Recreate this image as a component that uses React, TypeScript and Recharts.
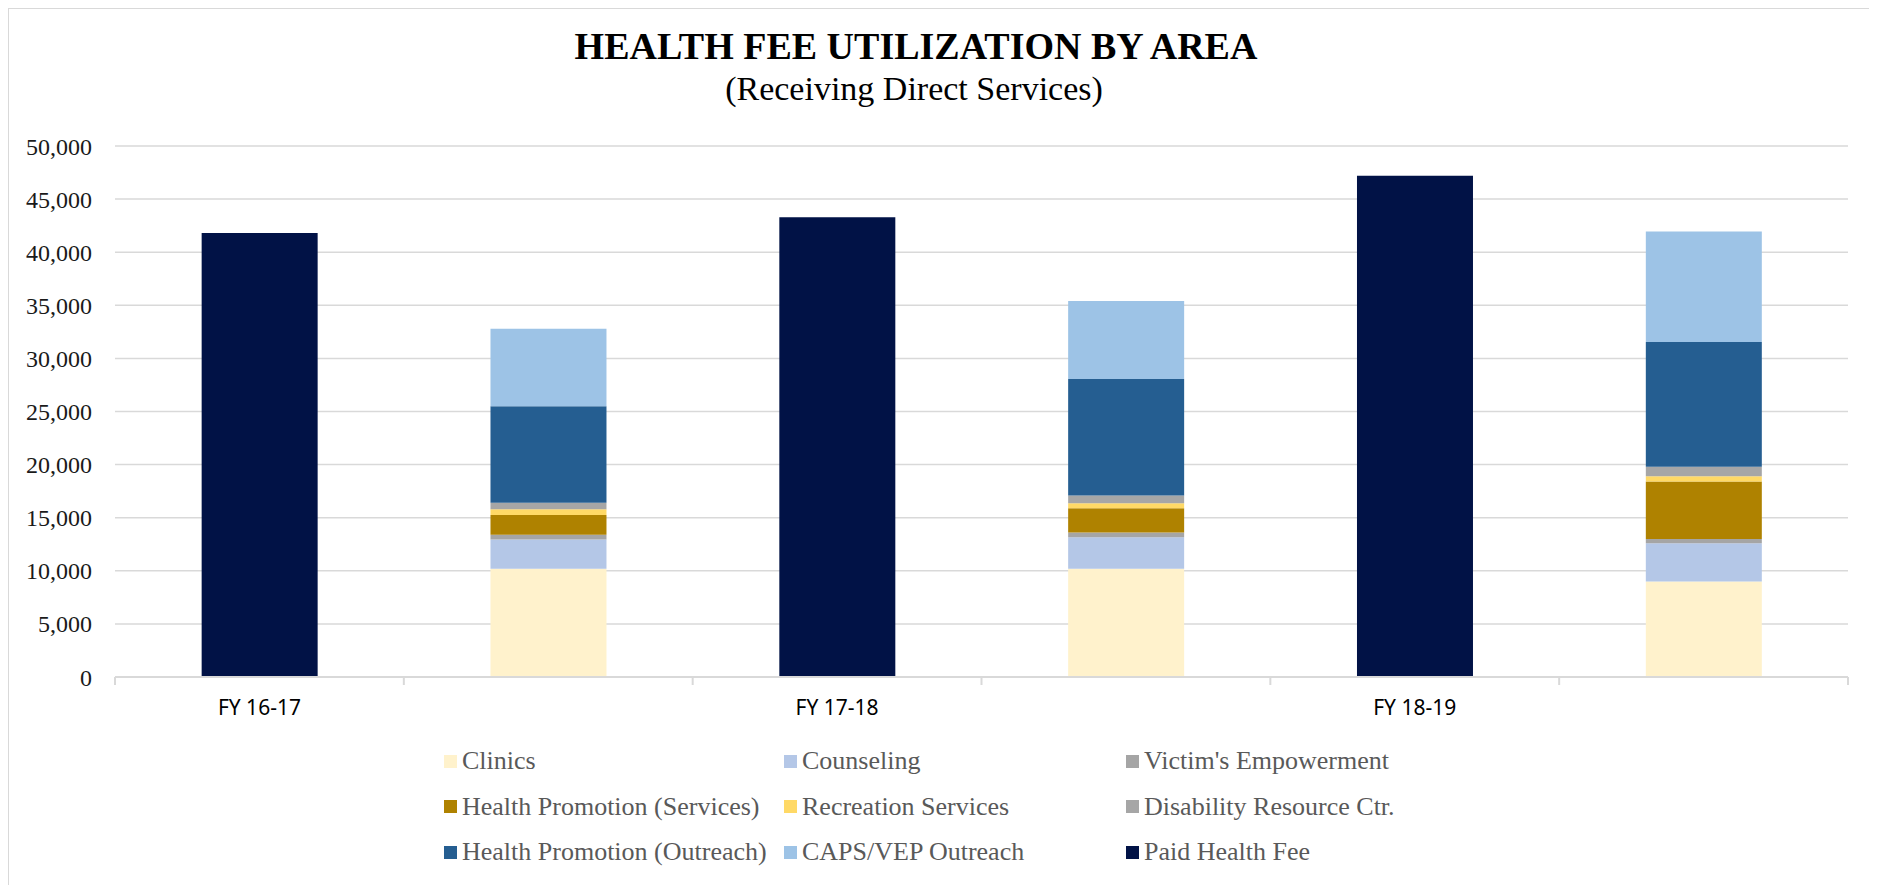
import React from "react";
import { BarChart, Bar, XAxis, YAxis, CartesianGrid } from "recharts";

// ---- data ----
const fiscalYears = ["FY 16-17", "FY 17-18", "FY 18-19"];
const paidHealthFee = [41800, 43300, 47200];
const clinics = [10200, 10200, 9000];
const counseling = [2750, 2950, 3600];
const victimsEmpowerment = [450, 450, 400];
const hpServices = [1850, 2300, 5400];
const recreation = [550, 450, 500];
const disability = [600, 750, 900];
const hpOutreach = [9100, 10950, 11750];
const capsVep = [7300, 7350, 10400];
const yTicks = [0, 5000, 10000, 15000, 20000, 25000, 30000, 35000, 40000, 45000, 50000];

const stackSeries = [
  { key: "clinics", name: "Clinics", color: "#FFF2CC", values: clinics },
  { key: "counseling", name: "Counseling", color: "#B4C7E7", values: counseling },
  { key: "victims", name: "Victim's Empowerment", color: "#A5A5A5", values: victimsEmpowerment },
  { key: "hps", name: "Health Promotion (Services)", color: "#AF8200", values: hpServices },
  { key: "rec", name: "Recreation Services", color: "#FFD966", values: recreation },
  { key: "dis", name: "Disability Resource Ctr.", color: "#A6A6A6", values: disability },
  { key: "hpo", name: "Health Promotion (Outreach)", color: "#255E91", values: hpOutreach },
  { key: "caps", name: "CAPS/VEP Outreach", color: "#9DC3E6", values: capsVep },
];
const paidSeries = { key: "paid", name: "Paid Health Fee", color: "#011246", values: paidHealthFee };
const allSeries = [...stackSeries, paidSeries];

// table built from the arrays: paid bar then services bar for each year
const rows: any[] = [];
fiscalYears.forEach((fy, i) => {
  rows.push({ key: `p${i}`, label: fy, paid: paidHealthFee[i] });
  const s: any = { key: `s${i}`, label: "" };
  stackSeries.forEach((ser) => (s[ser.key] = ser.values[i]));
  rows.push(s);
});
const labelByKey: Record<string, string> = {};
rows.forEach((r) => (labelByKey[r.key] = r.label));

// ---- layout ----
const CHART_W = 1868;
const CHART_H = 877;
const MARGIN = { top: 138, right: 28, bottom: 148, left: 0 };
const Y_W = 107;
const PLOT_W = CHART_W - MARGIN.left - MARGIN.right - Y_W;
const BAND = PLOT_W / rows.length;

const GRID = "#D9D9D9";

function XTick(props: any) {
  const { x, y, payload, index } = props;
  const label = labelByKey[payload.value] || "";
  const isLast = index === rows.length - 1;
  return (
    <g>
      <line x1={x - BAND / 2} x2={x - BAND / 2} y1={y} y2={y + 8} stroke={GRID} strokeWidth={2} />
      {isLast && <line x1={x + BAND / 2} x2={x + BAND / 2} y1={y} y2={y + 8} stroke={GRID} strokeWidth={2} />}
      <text x={x} y={y + 38} textAnchor="middle" fontFamily="'Noto Sans', sans-serif" fontSize={21} fill="#000">
        {label}
      </text>
    </g>
  );
}

const fmt = (v: number) => v.toLocaleString("en-US");

export default function App() {
  return (
    <div style={{ position: "relative", width: CHART_W, height: CHART_H, fontFamily: "'Liberation Serif', serif" }}>
      <div
        style={{
          position: "absolute",
          left: 0,
          top: 0,
          width: CHART_W,
          height: CHART_H,
          boxSizing: "border-box",
          border: `1px solid ${GRID}`,
          borderBottom: "none",
          pointerEvents: "none",
        }}
      />
      <div
        style={{
          position: "absolute",
          left: 908 - 600,
          width: 1200,
          top: 16,
          textAlign: "center",
          fontSize: 38,
          lineHeight: "44px",
          fontWeight: "bold",
          color: "#000",
          whiteSpace: "nowrap",
        }}
      >
        HEALTH FEE UTILIZATION BY AREA
      </div>
      <div
        style={{
          position: "absolute",
          left: 906 - 600,
          width: 1200,
          top: 61,
          textAlign: "center",
          fontSize: 34,
          lineHeight: "40px",
          color: "#000",
          whiteSpace: "nowrap",
        }}
      >
        (Receiving Direct Services)
      </div>
      <BarChart width={CHART_W} height={CHART_H} data={rows} margin={MARGIN} barCategoryGap="30%">
        <CartesianGrid vertical={false} stroke={GRID} strokeWidth={1.5} />
        <XAxis
          dataKey="key"
          axisLine={{ stroke: GRID, strokeWidth: 2 }}
          tickLine={false}
          tickSize={0}
          tickMargin={0}
          height={60}
          interval={0}
          tick={<XTick />}
        />
        <YAxis
          width={Y_W}
          domain={[0, 50000]}
          ticks={yTicks}
          axisLine={false}
          tickLine={false}
          tickSize={0}
          tickMargin={23}
          tickFormatter={fmt}
          tick={{ fontFamily: "'Liberation Serif', serif", fontSize: 24, fill: "#1a1a1a" }}
        />
        {allSeries.map((s) => (
          <Bar key={s.key} dataKey={s.key} name={s.name} stackId="a" fill={s.color} isAnimationActive={false} />
        ))}
      </BarChart>
      <div style={{ position: "absolute", left: 0, top: 0, width: CHART_W, height: CHART_H, pointerEvents: "none" }}>
        {allSeries.map((s, i) => {
          const col = i % 3;
          const row = Math.floor(i / 3);
          const colX = [436, 776, 1118][col];
          const cy = 753 + row * 45.5;
          return (
            <div
              key={s.key}
              style={{
                position: "absolute",
                left: colX,
                top: cy - 15,
                height: 30,
                display: "flex",
                alignItems: "center",
                whiteSpace: "nowrap",
              }}
            >
              <span style={{ display: "inline-block", width: 13, height: 13, background: s.color, marginRight: 5 }} />
              <span style={{ fontSize: 26, color: "#595959", lineHeight: "30px" }}>{s.name}</span>
            </div>
          );
        })}
      </div>
    </div>
  );
}
